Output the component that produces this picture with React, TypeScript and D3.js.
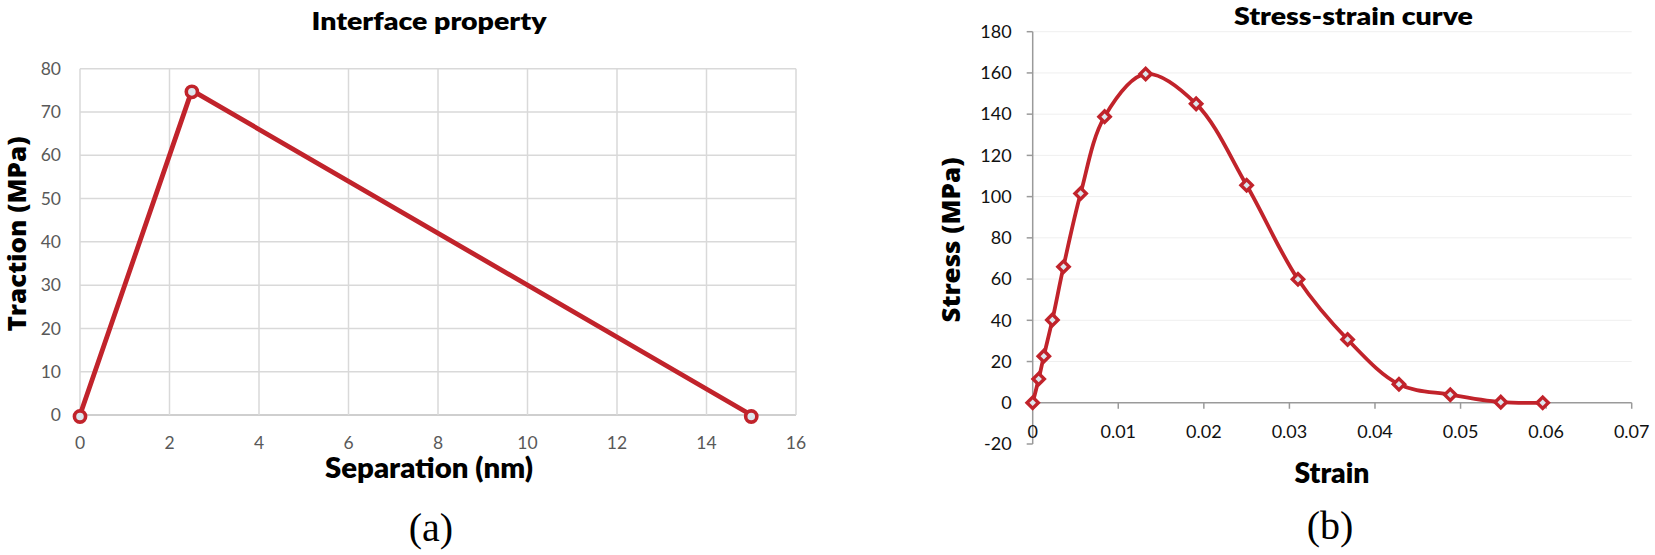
import React from "react";
import * as d3 from "d3";

// ---- Data ----
const sepX = [0, 2.5, 15];
const tracY = [0, 75, 0];
const sepTicks = [0, 2, 4, 6, 8, 10, 12, 14, 16];
const tracTicks = [0, 10, 20, 30, 40, 50, 60, 70, 80];

const strainX = [0, 0.0007, 0.0013, 0.0023, 0.0036, 0.0056, 0.0084, 0.0132, 0.0191, 0.025, 0.031, 0.0368, 0.0428, 0.0488, 0.0547, 0.0596];
const stressY = [0, 11.5, 22.6, 40.2, 66, 101.5, 138.8, 159.5, 145, 105.5, 59.9, 30.7, 9, 3.9, 0.3, 0];
const strainTicks = [0, 0.01, 0.02, 0.03, 0.04, 0.05, 0.06, 0.07];
const stressTicks = [-20, 0, 20, 40, 60, 80, 100, 120, 140, 160, 180];

const RED = "#c1232b";
const FILL = "#dde7ee";
const CAL = "Lato, 'Open Sans', sans-serif";
const WIDE = "'Open Sans', 'DejaVu Sans', sans-serif";
const SERIF = "'Liberation Serif', 'Times New Roman', serif";

function LeftChart() {
  const x = d3.scaleLinear().domain([0, 16]).range([80, 796]);
  const y = d3.scaleLinear().domain([0, 80]).range([415, 68.7]);
  const pts = sepX.map((v, i) => [v, tracY[i]] as [number, number]);
  const line = d3.line<[number, number]>().x(d => x(d[0])).y(d => y(d[1]));
  return (
    <g>
      {tracTicks.map(t => (
        <line key={"h" + t} x1={x(0)} x2={x(16)} y1={y(t)} y2={y(t)} stroke={t === 0 ? "#bfbfbf" : "#d9d9d9"} strokeWidth={1.5} />
      ))}
      {sepTicks.map(t => (
        <line key={"v" + t} x1={x(t)} x2={x(t)} y1={y(0)} y2={y(80)} stroke="#d9d9d9" strokeWidth={1.5} />
      ))}
      {tracTicks.map(t => (
        <text key={"yl" + t} x={61} y={y(t)} dy="0.35em" textAnchor="end" fontFamily={CAL} fontSize={17.5} fill="#595959">{t}</text>
      ))}
      {sepTicks.map(t => (
        <text key={"xl" + t} x={x(t)} y={443} dy="0.35em" textAnchor="middle" fontFamily={CAL} fontSize={17.5} fill="#595959">{t}</text>
      ))}
      <path d={line(pts) || ""} fill="none" stroke={RED} strokeWidth={4.8} strokeLinejoin="round" />
      {pts.map((p, i) => (
        <circle key={i} cx={x(p[0])} cy={y(p[1]) + 1.5} r={5.6} fill={FILL} stroke={RED} strokeWidth={3.6} />
      ))}
      <text x={429} y={29.5} textAnchor="middle" fontFamily={CAL} fontWeight={800} fontSize={24.5} textLength={235} lengthAdjust="spacingAndGlyphs">Interface property</text>
      <text x={429} y={478} textAnchor="middle" fontFamily={CAL} fontWeight={800} fontSize={28} textLength={208} lengthAdjust="spacingAndGlyphs">Separation (nm)</text>
      <text transform="translate(26,234) rotate(-90)" textAnchor="middle" fontFamily={WIDE} fontWeight={800} fontSize={25} textLength={195} lengthAdjust="spacingAndGlyphs">Traction (MPa)</text>
      <text x={431} y={541} textAnchor="middle" fontFamily={SERIF} fontSize={40}>(a)</text>
    </g>
  );
}

function RightChart() {
  const x = d3.scaleLinear().domain([0, 0.07]).range([1032.7, 1631.7]);
  const y = d3.scaleLinear().domain([-20, 180]).range([444, 31.7]);
  const pts = strainX.map((v, i) => [v, stressY[i]] as [number, number]);
  const line = d3.line<[number, number]>().x(d => x(d[0])).y(d => y(d[1])).curve(d3.curveCatmullRom.alpha(0.5));
  const diamond = d3.symbol(d3.symbolSquare, 64)() || "";
  const fmt = (t: number) => (t === 0 ? "0" : d3.format(".2f")(t));
  return (
    <g>
      {stressTicks.filter(t => t > 0).map(t => (
        <line key={"h" + t} x1={x(0)} x2={x(0.07)} y1={y(t)} y2={y(t)} stroke="#efefef" strokeWidth={1} />
      ))}
      <line x1={x(0)} x2={x(0)} y1={y(-20)} y2={y(180)} stroke="#9a9a9a" strokeWidth={1.5} />
      {stressTicks.map(t => (
        <line key={"yt" + t} x1={x(0) - 6} x2={x(0)} y1={y(t)} y2={y(t)} stroke="#9a9a9a" strokeWidth={1.5} />
      ))}
      <line x1={x(0)} x2={x(0.07)} y1={y(0)} y2={y(0)} stroke="#9a9a9a" strokeWidth={1.5} />
      {strainTicks.map(t => (
        <line key={"xt" + t} x1={x(t)} x2={x(t)} y1={y(0)} y2={y(0) + 6} stroke="#9a9a9a" strokeWidth={1.5} />
      ))}
      {stressTicks.map(t => (
        <text key={"yl" + t} x={1011.7} y={y(t)} dy="0.35em" textAnchor="end" fontFamily={CAL} fontSize={18} fill="#111">{t}</text>
      ))}
      {strainTicks.map(t => (
        <text key={"xl" + t} x={x(t)} y={431.7} dy="0.35em" textAnchor="middle" fontFamily={CAL} fontSize={18} fill="#111">{fmt(t)}</text>
      ))}
      <path d={line(pts) || ""} fill="none" stroke={RED} strokeWidth={3.8} />
      {pts.map((p, i) => (
        <path key={i} d={diamond} transform={`translate(${x(p[0])},${y(p[1])}) rotate(45)`} fill={FILL} stroke={RED} strokeWidth={3.4} />
      ))}
      <text x={1353.5} y={25} textAnchor="middle" fontFamily={CAL} fontWeight={800} fontSize={25} textLength={239} lengthAdjust="spacingAndGlyphs">Stress-strain curve</text>
      <text x={1332} y={483} textAnchor="middle" fontFamily={CAL} fontWeight={800} fontSize={28} textLength={75} lengthAdjust="spacingAndGlyphs">Strain</text>
      <text transform="translate(960,240) rotate(-90)" textAnchor="middle" fontFamily={WIDE} fontWeight={800} fontSize={25} textLength={165} lengthAdjust="spacingAndGlyphs">Stress (MPa)</text>
      <text x={1330} y={539} textAnchor="middle" fontFamily={SERIF} fontSize={40}>(b)</text>
    </g>
  );
}

export default function App() {
  return (
    <svg width={1655} height={555} viewBox="0 0 1655 555" style={{ position: "absolute", left: 0, top: 0, display: "block", background: "#fff" }}>
      <rect x={0} y={0} width={1655} height={555} fill="#fff" />
      <LeftChart />
      <RightChart />
    </svg>
  );
}
